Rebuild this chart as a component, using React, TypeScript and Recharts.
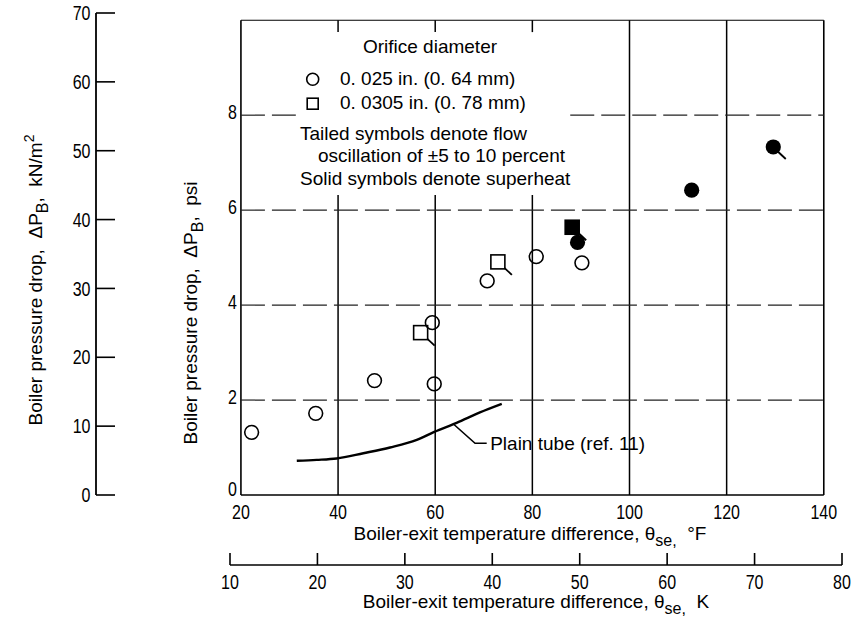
import React from 'react';
import {
  ComposedChart,
  XAxis,
  YAxis,
  Scatter,
  Line,
  ReferenceLine,
  ReferenceDot,
  Customized,
} from 'recharts';

// ---------- data ----------
const fTicks = [20, 40, 60, 80, 100, 120, 140];
const kTicks = [10, 20, 30, 40, 50, 60, 70, 80];
const psiTicks = [0, 2, 4, 6, 8];
const knTicks = [0, 10, 20, 30, 40, 50, 60, 70];
const gridF = [40, 60, 80, 100, 120];
const gridPsi = [2, 4, 6, 8];

// orifice 0.025 in. (open circles)
const openCircles = [
  { x: 22.2, y: 1.32, tail: false },
  { x: 35.4, y: 1.72, tail: false },
  { x: 47.5, y: 2.41, tail: false },
  { x: 59.8, y: 2.34, tail: false },
  { x: 59.4, y: 3.63, tail: false },
  { x: 70.7, y: 4.51, tail: false },
  { x: 80.8, y: 5.02, tail: false },
  { x: 90.2, y: 4.89, tail: false },
];
// orifice 0.0305 in. (open squares)
const openSquares = [
  { x: 57.0, y: 3.42, tail: true },
  { x: 72.9, y: 4.91, tail: true },
];
// superheat (solid)
const solidSquares = [{ x: 88.2, y: 5.64, tail: true }];
const solidCircles = [
  { x: 89.3, y: 5.32, tail: false },
  { x: 112.8, y: 6.42, tail: false },
  { x: 129.6, y: 7.33, tail: true },
];
// Plain tube (ref. 11)
const plainTube = [
  { x: 31.5, y: 0.72 },
  { x: 35.6, y: 0.74 },
  { x: 39.7, y: 0.77 },
  { x: 45.2, y: 0.88 },
  { x: 50.7, y: 1.0 },
  { x: 56.2, y: 1.16 },
  { x: 59.8, y: 1.33 },
  { x: 64.4, y: 1.52 },
  { x: 69.2, y: 1.74 },
  { x: 73.7, y: 1.92 },
];
const plainTubeLeader = [
  { x: 63.8, y: 1.49 },
  { x: 68.2, y: 1.09 },
  { x: 70.6, y: 1.09 },
];
const plainTubeLabel = 'Plain tube (ref. 11)';

// ---------- layout / styles ----------
const TEXT_FONT = '"Liberation Sans", Arial, sans-serif';
const INK = '#000';
const NBSP = '\u00a0';
// region of the plot kept clear for the legend block (in data units)
const LEGEND_CLEAR = { f1: 31.3, f2: 87.8, p1: 6.32, p2: 9.75 };

const NarrowTick = (props: any) => {
  const { x, y, payload, textAnchor, verticalAnchor, shift = 0 } = props;
  const dy = verticalAnchor === 'start' ? '0.71em' : '0.355em';
  return (
    <g transform={`translate(${x},${y + shift}) scale(0.8,1)`}>
      <text x={0} y={0} dy={dy} textAnchor={textAnchor} fontFamily={TEXT_FONT} fontSize={20} fill={INK}>
        {payload.value}
      </text>
    </g>
  );
};
const PsiTick = (props: any) => (
  <NarrowTick {...props} shift={props.payload && props.payload.value === 0 ? -6 : -3} />
);

const makeShape = (kind: 'circle' | 'square', filled: boolean) => (props: any) => {
  const { cx, cy, payload } = props;
  if (cx == null || cy == null) return <g />;
  const tail = payload && payload.tail;
  return (
    <g>
      {tail ? (
        kind === 'circle' ? (
          <line x1={cx + 4.5} y1={cy + 4.5} x2={cx + 12.5} y2={cy + 12} stroke={INK} strokeWidth={1.8} />
        ) : (
          <line x1={cx + 6.5} y1={cy + 6} x2={cx + 14} y2={cy + 13} stroke={INK} strokeWidth={1.8} />
        )
      ) : null}
      {kind === 'circle' ? (
        <circle
          cx={cx}
          cy={cy}
          r={filled ? 7.6 : 6.9}
          fill={filled ? INK : 'none'}
          stroke={INK}
          strokeWidth={filled ? 0 : 1.6}
        />
      ) : (
        <rect
          x={cx - 7}
          y={cy - 7}
          width={14}
          height={14}
          fill={filled ? INK : 'none'}
          stroke={INK}
          strokeWidth={1.6}
        />
      )}
    </g>
  );
};

function Annotations() {
  const t = { fontFamily: TEXT_FONT, fontSize: 19, fill: INK } as const;
  return (
    <g>
      {/* legend block */}
      <text {...t} x={430} y={53} textAnchor="middle">Orifice diameter</text>
      <circle cx={312.7} cy={79.3} r={6} fill="none" stroke={INK} strokeWidth={1.6} />
      <text {...t} x={340} y={85}>{`0.${NBSP}025 in.${NBSP}(0.${NBSP}64 mm)`}</text>
      <rect x={307.2} y={98.2} width={11} height={11} fill="none" stroke={INK} strokeWidth={1.6} />
      <text {...t} x={340} y={109}>{`0.${NBSP}0305 in.${NBSP}(0.${NBSP}78 mm)`}</text>
      <text {...t} x={300} y={140}>Tailed symbols denote flow</text>
      <text {...t} x={318} y={162}>oscillation of ±5 to 10 percent</text>
      <text {...t} x={300} y={185}>Solid symbols denote superheat</text>

      {/* x axis titles */}
      <text {...t} x={530} y={540} textAnchor="middle">
        Boiler-exit temperature difference, θ
        <tspan dy={6} fontSize={16}>se,</tspan>
        <tspan dy={-6}>{`${NBSP}${NBSP}°F`}</tspan>
      </text>
      <text {...t} x={536} y={608} textAnchor="middle">
        Boiler-exit temperature difference, θ
        <tspan dy={6} fontSize={16}>se,</tspan>
        <tspan dy={-6}>{`${NBSP}${NBSP}K`}</tspan>
      </text>

      {/* y axis titles */}
      <text {...t} x={196.5} y={313} textAnchor="middle" transform="rotate(-90 196.5 313)">
        {`Boiler pressure drop,${NBSP}${NBSP}ΔP`}
        <tspan dy={6} fontSize={16}>B</tspan>
        <tspan dy={-6}>{`,${NBSP}${NBSP}psi`}</tspan>
      </text>
      <text {...t} x={42} y={280} textAnchor="middle" transform="rotate(-90 42 280)">
        {`Boiler pressure drop,${NBSP}${NBSP}ΔP`}
        <tspan dy={6} fontSize={16}>B</tspan>
        <tspan dy={-6}>{`,${NBSP}${NBSP}kN/m`}</tspan>
        <tspan dy={-8} fontSize={14}>2</tspan>
      </text>
    </g>
  );
}

// grid segments, interrupted where the legend block sits
const verticalSegments = (f: number): [number, number][] =>
  f > LEGEND_CLEAR.f1 && f < LEGEND_CLEAR.f2
    ? [
        [0, LEGEND_CLEAR.p1],
        [LEGEND_CLEAR.p2, 10],
      ]
    : [[0, 10]];
const horizontalSegments = (p: number): [number, number][] =>
  p > LEGEND_CLEAR.p1 && p < LEGEND_CLEAR.p2
    ? [
        [20, LEGEND_CLEAR.f1],
        [LEGEND_CLEAR.f2, 140],
      ]
    : [[20, 140]];

export default function App() {
  return (
    <div style={{ width: 854, height: 618 }}>
      <style>{'body{margin:0}'}</style>
      <ComposedChart width={854} height={618} margin={{ top: 13, right: 12, bottom: 0, left: 0 }}>
        <XAxis
          xAxisId="F"
          dataKey="x"
          type="number"
          domain={[17.75, 143.75]}
          allowDataOverflow
          ticks={fTicks}
          interval={0}
          axisLine={false}
          tickLine={false}
          tickSize={0}
          tickMargin={9.5}
          height={70}
          tick={NarrowTick}
        />
        <XAxis
          xAxisId="K"
          dataKey="k"
          type="number"
          domain={[10, 80]}
          allowDataOverflow
          ticks={kTicks}
          interval={0}
          axisLine={{ stroke: INK, strokeWidth: 1.6 }}
          tickLine={{ stroke: INK, strokeWidth: 1.6 }}
          tickSize={-12}
          tickMargin={21.5}
          height={53}
          tick={NarrowTick}
        />
        <YAxis
          yAxisId="b_kN"
          dataKey="kn"
          type="number"
          domain={[0, 70]}
          allowDataOverflow
          ticks={knTicks}
          interval={0}
          axisLine={{ stroke: INK, strokeWidth: 1.8 }}
          tickLine={{ stroke: INK, strokeWidth: 1.6 }}
          tickSize={-19}
          tickMargin={24.5}
          width={96}
          tick={NarrowTick}
        />
        <YAxis
          yAxisId="a_psi"
          dataKey="y"
          type="number"
          domain={[0, 70 / 6.895]}
          allowDataOverflow
          ticks={psiTicks}
          interval={0}
          axisLine={false}
          tickLine={false}
          tickSize={0}
          tickMargin={-7}
          width={134}
          tick={PsiTick}
        />

        {/* frame */}
        <ReferenceLine xAxisId="F" yAxisId="a_psi" segment={[{ x: 20, y: 0 }, { x: 20, y: 10 }]} stroke={INK} strokeWidth={1.6} />
        <ReferenceLine xAxisId="F" yAxisId="a_psi" segment={[{ x: 140, y: 0 }, { x: 140, y: 10 }]} stroke={INK} strokeWidth={1.6} />
        <ReferenceLine xAxisId="F" yAxisId="a_psi" segment={[{ x: 20, y: 0 }, { x: 140, y: 0 }]} stroke={INK} strokeWidth={1.6} />
        <ReferenceLine xAxisId="F" yAxisId="a_psi" segment={[{ x: 20, y: 10 }, { x: 140, y: 10 }]} stroke={INK} strokeWidth={1.2} />
        {/* grid */}
        {gridF.map((f) =>
          verticalSegments(f).map(([a, b]) => (
            <ReferenceLine
              key={`gf${f}-${a}`}
              xAxisId="F"
              yAxisId="a_psi"
              segment={[{ x: f, y: a }, { x: f, y: b }]}
              stroke={INK}
              strokeWidth={1.5}
            />
          ))
        )}
        {gridPsi.map((p) =>
          horizontalSegments(p).map(([a, b]) => (
            <ReferenceLine
              key={`gp${p}-${a}`}
              xAxisId="F"
              yAxisId="a_psi"
              segment={[{ x: a, y: p }, { x: b, y: p }]}
              stroke="#222"
              strokeWidth={1.2}
              strokeDasharray="24 7"
            />
          ))
        )}

        <Line
          xAxisId="F"
          yAxisId="a_psi"
          data={plainTube}
          dataKey="y"
          type="monotone"
          dot={false}
          stroke={INK}
          strokeWidth={2.4}
          isAnimationActive={false}
        />
        <Line
          xAxisId="F"
          yAxisId="a_psi"
          data={plainTubeLeader}
          dataKey="y"
          type="linear"
          dot={false}
          stroke={INK}
          strokeWidth={1.6}
          isAnimationActive={false}
        />
        <ReferenceDot
          xAxisId="F"
          yAxisId="a_psi"
          x={plainTubeLeader[2].x}
          y={plainTubeLeader[2].y}
          r={0.5}
          fill="none"
          stroke="none"
          label={{
            value: plainTubeLabel,
            position: 'right',
            offset: 3,
            fill: INK,
            fontSize: 19,
            fontFamily: TEXT_FONT,
          }}
        />

        <Scatter xAxisId="F" yAxisId="a_psi" data={openCircles} shape={makeShape('circle', false)} isAnimationActive={false} />
        <Scatter xAxisId="F" yAxisId="a_psi" data={openSquares} shape={makeShape('square', false)} isAnimationActive={false} />
        <Scatter xAxisId="F" yAxisId="a_psi" data={solidSquares} shape={makeShape('square', true)} isAnimationActive={false} />
        <Scatter xAxisId="F" yAxisId="a_psi" data={solidCircles} shape={makeShape('circle', true)} isAnimationActive={false} />

        <Customized component={Annotations} />
      </ComposedChart>
    </div>
  );
}
